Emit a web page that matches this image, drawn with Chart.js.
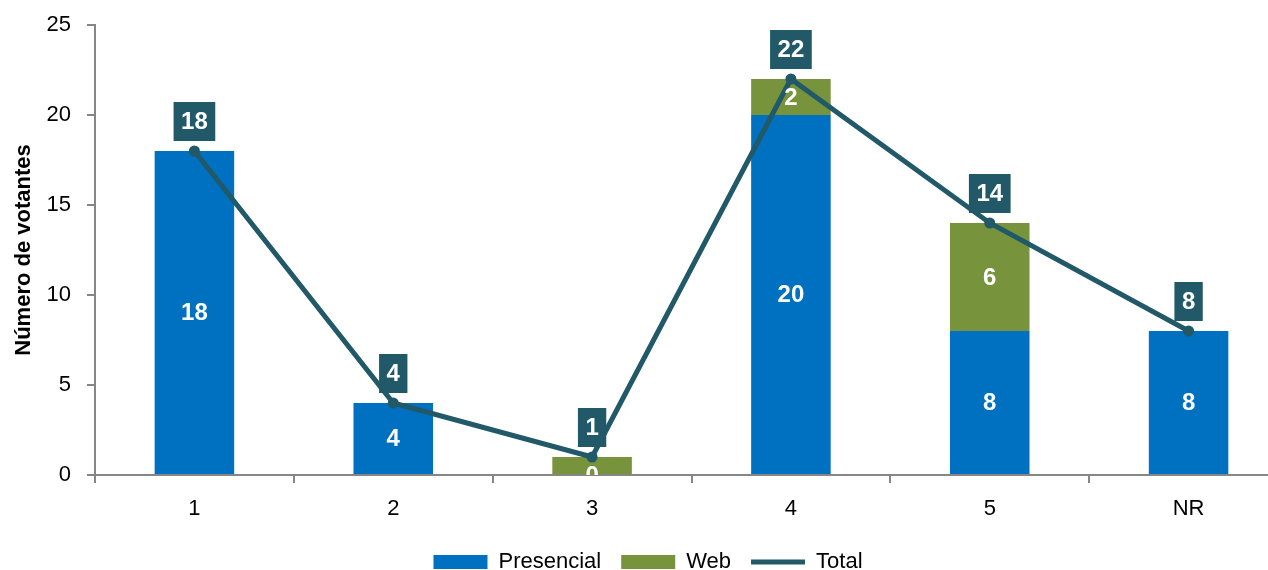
<!DOCTYPE html>
<html>
<head>
<meta charset="utf-8">
<script src="https://cdn.jsdelivr.net/npm/chart.js@4.4.1/dist/chart.umd.min.js"></script>
<style>
  html, body { margin: 0; padding: 0; background: #fff; overflow: hidden; }
  #wrap { width: 1296px; height: 583px; }
</style>
</head>
<body>
<div id="wrap"><canvas id="votesChart"></canvas></div>
<script>
const categories = ['1', '2', '3', '4', '5', 'NR'];
const presencial = [18, 4, 0, 20, 8, 8];
const web = [0, 0, 1, 2, 6, 0];
const total = [18, 4, 1, 22, 14, 8];

const FONT = "'Liberation Sans', Arial, sans-serif";
const BLUE = '#0070C0';
const GREEN = '#77933C';
const TEAL = '#215968';
const AXIS = '#868686';

// draws the white numbers inside the bars and the boxed totals over the line
const valueLabels = {
  id: 'valueLabels',
  afterDatasetsDraw(chart) {
    const { ctx, chartArea } = chart;
    ctx.save();
    ctx.font = 'bold 24px ' + FONT;
    ctx.textAlign = 'center';
    ctx.textBaseline = 'middle';

    ctx.save();
    ctx.beginPath();
    ctx.rect(chartArea.left, chartArea.top, chartArea.right - chartArea.left, chartArea.bottom - chartArea.top);
    ctx.clip();
    ctx.fillStyle = '#fff';
    [0, 1].forEach(di => {
      const values = chart.data.datasets[di].data;
      chart.getDatasetMeta(di).data.forEach((bar, i) => {
        if (di === 1 && values[i] < 2) return;
        ctx.fillText(String(values[i]), bar.x, (bar.y + bar.base) / 2 + 1);
      });
    });
    ctx.restore();

    const lineMeta = chart.getDatasetMeta(2);
    lineMeta.data.forEach((pt, i) => {
      const txt = String(total[i]);
      const w = ctx.measureText(txt).width + 15;
      const h = 39;
      const bottom = pt.y - 10;
      ctx.fillStyle = TEAL;
      ctx.fillRect(pt.x - w / 2, bottom - h, w, h);
      ctx.fillStyle = '#fff';
      ctx.fillText(txt, pt.x, bottom - h / 2 + 1);
    });
    ctx.restore();
  }
};

const ctx = document.getElementById('votesChart');
const votesChart = new Chart(ctx, {
  data: {
    labels: categories,
    datasets: [
      {
        type: 'bar',
        label: 'Presencial',
        data: presencial,
        backgroundColor: BLUE,
        stack: 'votos',
        order: 1,
        barPercentage: 0.4,
        categoryPercentage: 1
      },
      {
        type: 'bar',
        label: 'Web',
        data: web,
        backgroundColor: GREEN,
        stack: 'votos',
        order: 1,
        barPercentage: 0.4,
        categoryPercentage: 1
      },
      {
        type: 'line',
        label: 'Total',
        data: total,
        borderColor: TEAL,
        backgroundColor: TEAL,
        borderWidth: 5,
        pointRadius: 3,
        pointHoverRadius: 3,
        stack: 'total',
        order: 0,
        tension: 0
      }
    ]
  },
  options: {
    responsive: true,
    maintainAspectRatio: false,
    animation: false,
    layout: {
      padding: { top: 25, left: 0, right: 0, bottom: 0 }
    },
    plugins: {
      tooltip: { enabled: false },
      legend: {
        position: 'bottom',
        labels: {
          font: { family: FONT, size: 22 },
          color: '#000',
          usePointStyle: true,
          pointStyleWidth: 54,
          boxHeight: 14,
          padding: 20,
          sort: (a, b) => a.datasetIndex - b.datasetIndex,
          generateLabels(chart) {
            const items = Chart.defaults.plugins.legend.labels.generateLabels(chart);
            items.forEach(it => {
              const ds = chart.data.datasets[it.datasetIndex];
              if (ds.type === 'line') {
                it.pointStyle = 'line';
                it.lineWidth = 5;
                it.strokeStyle = TEAL;
              } else {
                it.pointStyle = 'rect';
                it.lineWidth = 0;
              }
            });
            return items;
          }
        }
      }
    },
    scales: {
      x: {
        stacked: true,
        afterFit(scale) { scale.height = 56; },
        border: { display: true, color: AXIS, width: 2 },
        grid: { drawOnChartArea: false, drawTicks: true, tickLength: 8, color: AXIS, lineWidth: 2 },
        ticks: { color: '#000', font: { family: FONT, size: 22 }, padding: 13 }
      },
      y: {
        stacked: true,
        min: 0,
        max: 25,
        afterFit(scale) {
          scale.width = 95;
          scale.paddingTop = 14;
          scale.paddingBottom = 14;
        },
        border: { display: true, color: AXIS, width: 2 },
        grid: { drawOnChartArea: false, drawTicks: true, tickLength: 8, color: AXIS, lineWidth: 2 },
        ticks: { stepSize: 5, color: '#000', font: { family: FONT, size: 22 }, padding: 16 },
        title: {
          display: true,
          text: 'Número de votantes',
          color: '#000',
          font: { family: FONT, size: 22, weight: 'bold' },
          padding: { top: 11, bottom: 0 }
        }
      }
    }
  },
  plugins: [valueLabels]
});
</script>
</body>
</html>
